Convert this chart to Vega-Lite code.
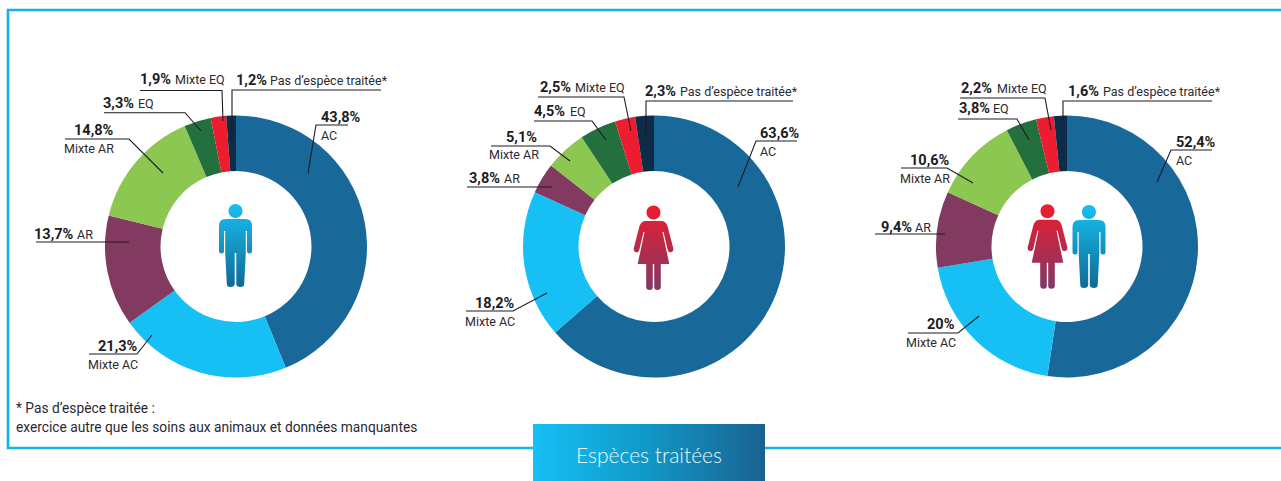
{"$schema":"https://vega.github.io/schema/vega-lite/v6.json","width":1281,"height":481,"autosize":{"type":"none"},"padding":0,"background":"#ffffff","config":{"view":{"stroke":null}},
"datasets":{
"shares":[
{"donut":"H","species":"AC","rank":1,"pct":43.8},{"donut":"H","species":"Mixte AC","rank":2,"pct":21.3},{"donut":"H","species":"AR","rank":3,"pct":13.7},{"donut":"H","species":"Mixte AR","rank":4,"pct":14.8},{"donut":"H","species":"EQ","rank":5,"pct":3.3},{"donut":"H","species":"Mixte EQ","rank":6,"pct":1.9},{"donut":"H","species":"Pas d'espèce traitée","rank":7,"pct":1.2},
{"donut":"F","species":"AC","rank":1,"pct":63.6},{"donut":"F","species":"Mixte AC","rank":2,"pct":18.2},{"donut":"F","species":"AR","rank":3,"pct":3.8},{"donut":"F","species":"Mixte AR","rank":4,"pct":5.1},{"donut":"F","species":"EQ","rank":5,"pct":4.5},{"donut":"F","species":"Mixte EQ","rank":6,"pct":2.5},{"donut":"F","species":"Pas d'espèce traitée","rank":7,"pct":2.3},
{"donut":"T","species":"AC","rank":1,"pct":52.4},{"donut":"T","species":"Mixte AC","rank":2,"pct":20},{"donut":"T","species":"AR","rank":3,"pct":9.4},{"donut":"T","species":"Mixte AR","rank":4,"pct":10.6},{"donut":"T","species":"EQ","rank":5,"pct":3.8},{"donut":"T","species":"Mixte EQ","rank":6,"pct":2.2},{"donut":"T","species":"Pas d'espèce traitée","rank":7,"pct":1.6}],
"leaders":[
{"id":"H1","s":1,"gx":308,"gy":173},{"id":"H1","s":2,"gx":316,"gy":125},{"id":"H1","s":3,"gx":348,"gy":125},
{"id":"H2","s":1,"gx":232,"gy":142},{"id":"H2","s":2,"gx":232,"gy":90},{"id":"H2","s":3,"gx":381,"gy":90},
{"id":"H3","s":1,"gx":140,"gy":90.5},{"id":"H3","s":2,"gx":222,"gy":90.5},{"id":"H3","s":3,"gx":223,"gy":121},
{"id":"H4","s":1,"gx":104,"gy":112.7},{"id":"H4","s":2,"gx":185,"gy":112.7},{"id":"H4","s":3,"gx":201,"gy":131},
{"id":"H5","s":1,"gx":65,"gy":139},{"id":"H5","s":2,"gx":129,"gy":139},{"id":"H5","s":3,"gx":163,"gy":173},
{"id":"H6","s":1,"gx":36,"gy":242},{"id":"H6","s":2,"gx":129,"gy":242},
{"id":"H7","s":1,"gx":89,"gy":354},{"id":"H7","s":2,"gx":137,"gy":354},{"id":"H7","s":3,"gx":152,"gy":335},
{"id":"F1","s":1,"gx":738,"gy":187},{"id":"F1","s":2,"gx":756,"gy":141},{"id":"F1","s":3,"gx":797,"gy":141},
{"id":"F2","s":1,"gx":646,"gy":135},{"id":"F2","s":2,"gx":646,"gy":101},{"id":"F2","s":3,"gx":793,"gy":101},
{"id":"F3","s":1,"gx":538,"gy":97},{"id":"F3","s":2,"gx":624,"gy":97},{"id":"F3","s":3,"gx":631,"gy":131},
{"id":"F4","s":1,"gx":534,"gy":121},{"id":"F4","s":2,"gx":592,"gy":121},{"id":"F4","s":3,"gx":606,"gy":140},
{"id":"F5","s":1,"gx":491,"gy":146},{"id":"F5","s":2,"gx":550,"gy":146},{"id":"F5","s":3,"gx":570,"gy":161},
{"id":"F6","s":1,"gx":467,"gy":187},{"id":"F6","s":2,"gx":552,"gy":187},
{"id":"F7","s":1,"gx":466,"gy":311},{"id":"F7","s":2,"gx":513,"gy":311},{"id":"F7","s":3,"gx":547,"gy":293},
{"id":"T1","s":1,"gx":1157,"gy":182},{"id":"T1","s":2,"gx":1171,"gy":150},{"id":"T1","s":3,"gx":1212,"gy":150},
{"id":"T2","s":1,"gx":1063,"gy":120},{"id":"T2","s":2,"gx":1063,"gy":101},{"id":"T2","s":3,"gx":1212,"gy":101},
{"id":"T3","s":1,"gx":960,"gy":98},{"id":"T3","s":2,"gx":1045,"gy":98},{"id":"T3","s":3,"gx":1051,"gy":130},
{"id":"T4","s":1,"gx":958,"gy":119},{"id":"T4","s":2,"gx":1017,"gy":119},{"id":"T4","s":3,"gx":1029,"gy":140},
{"id":"T5","s":1,"gx":901,"gy":168},{"id":"T5","s":2,"gx":947,"gy":168},{"id":"T5","s":3,"gx":973,"gy":183},
{"id":"T6","s":1,"gx":875,"gy":234},{"id":"T6","s":2,"gx":945,"gy":234},
{"id":"T7","s":1,"gx":908,"gy":333},{"id":"T7","s":2,"gx":958,"gy":333},{"id":"T7","s":3,"gx":979,"gy":316}],
"values":[
{"t":"43,8%","gx":321,"gy":122},{"t":"1,2%","gx":236,"gy":85},{"t":"1,9%","gx":140,"gy":84},{"t":"3,3%","gx":103,"gy":108},{"t":"14,8%","gx":74,"gy":135},{"t":"13,7%","gx":34,"gy":239},{"t":"21,3%","gx":98,"gy":351},
{"t":"63,6%","gx":760,"gy":138},{"t":"2,3%","gx":645,"gy":96},{"t":"2,5%","gx":540,"gy":92},{"t":"4,5%","gx":534,"gy":116},{"t":"5,1%","gx":506,"gy":142},{"t":"3,8%","gx":469,"gy":183},{"t":"18,2%","gx":475,"gy":308},
{"t":"52,4%","gx":1176,"gy":147},{"t":"1,6%","gx":1068,"gy":96},{"t":"2,2%","gx":961,"gy":93},{"t":"3,8%","gx":959,"gy":113},{"t":"10,6%","gx":910,"gy":165},{"t":"9,4%","gx":881,"gy":232},{"t":"20%","gx":927,"gy":329}],
"names":[
{"t":"AC","gx":321,"gy":140},{"t":"Pas d’espèce traitée*","gx":270,"gy":85},{"t":"Mixte EQ","gx":175,"gy":84},{"t":"EQ","gx":138,"gy":108},{"t":"Mixte AR","gx":64,"gy":153},{"t":"AR","gx":77,"gy":239},{"t":"Mixte AC","gx":88,"gy":369},
{"t":"AC","gx":760,"gy":156},{"t":"Pas d’espèce traitée*","gx":680,"gy":96},{"t":"Mixte EQ","gx":575,"gy":92},{"t":"EQ","gx":570,"gy":116},{"t":"Mixte AR","gx":489,"gy":159},{"t":"AR","gx":504,"gy":183},{"t":"Mixte AC","gx":465,"gy":326},
{"t":"AC","gx":1176,"gy":165},{"t":"Pas d’espèce traitée*","gx":1103,"gy":96},{"t":"Mixte EQ","gx":997,"gy":93},{"t":"EQ","gx":993,"gy":113},{"t":"Mixte AR","gx":900,"gy":183},{"t":"AR","gx":915,"gy":232},{"t":"Mixte AC","gx":906,"gy":347},
{"t":"* Pas d’espèce traitée :","gx":16,"gy":413,"big":true},{"t":"exercice autre que les soins aux animaux et données manquantes","gx":16,"gy":432,"big":true}],
"men":[{"gx":235.5,"gy":250},{"gx":1089,"gy":251}],
"women":[{"gx":653.5,"gy":250},{"gx":1047.5,"gy":248.8}],
"frame":[{"p":"a","s":1,"gx":1281,"gy":10},{"p":"a","s":2,"gx":8,"gy":10},{"p":"a","s":3,"gx":8,"gy":448},{"p":"a","s":4,"gx":1281,"gy":448}],
"box":[{"t":"Espèces traitées","a":533,"b":765,"c":424,"d":481}]
},
"layer":[
{"data":{"name":"frame"},"mark":{"type":"line","color":"#0fb3ec","strokeWidth":2.6},"encoding":{"x":{"field":"gx","type":"quantitative","scale":{"domain":[0,1281],"nice":false,"zero":false},"axis":null},"y":{"field":"gy","type":"quantitative","scale":{"domain":[481,0],"nice":false,"zero":false},"axis":null},"order":{"field":"s"},"detail":{"field":"p"}}},
{"data":{"name":"box"},"mark":{"type":"rect","color":{"gradient":"linear","x1":0,"y1":0,"x2":1,"y2":0,"stops":[{"offset":0,"color":"#16c0f6"},{"offset":0.45,"color":"#109ccb"},{"offset":1,"color":"#1a6290"}]}},"encoding":{"x":{"field":"a","type":"quantitative"},"x2":{"field":"b"},"y":{"field":"c","type":"quantitative"},"y2":{"field":"d"}}},
{"data":{"name":"box"},"mark":{"type":"text","font":"Lato","fontSize":21,"color":"#eaf8fd","align":"center","baseline":"alphabetic","fontWeight":300},"encoding":{"x":{"datum":649},"y":{"datum":463},"text":{"field":"t"}}},
{"data":{"name":"shares"},"transform":[{"filter":"datum.donut==='H'"}],"mark":{"type":"arc","outerRadius":131,"innerRadius":75.5},"encoding":{"x":{"datum":236},"y":{"datum":246.5},"theta":{"field":"pct","type":"quantitative","scale":{"domain":[0,100],"range":[0,6.283185]}},"order":{"field":"rank"},"color":{"field":"species","type":"nominal","legend":null,"scale":{"domain":["AC","Mixte AC","AR","Mixte AR","EQ","Mixte EQ","Pas d'espèce traitée"],"range":["#19689a","#16c0f5","#833a61","#8bc751","#23703e","#ed1c2e","#0c2c47"]}}}},
{"data":{"name":"shares"},"transform":[{"filter":"datum.donut==='F'"}],"mark":{"type":"arc","outerRadius":131,"innerRadius":75.5},"encoding":{"x":{"datum":654},"y":{"datum":246.5},"theta":{"field":"pct","type":"quantitative"},"order":{"field":"rank"},"color":{"field":"species","type":"nominal","legend":null}}},
{"data":{"name":"shares"},"transform":[{"filter":"datum.donut==='T'"}],"mark":{"type":"arc","outerRadius":131,"innerRadius":75.5},"encoding":{"x":{"datum":1067},"y":{"datum":246.5},"theta":{"field":"pct","type":"quantitative"},"order":{"field":"rank"},"color":{"field":"species","type":"nominal","legend":null}}},
{"data":{"name":"leaders"},"mark":{"type":"line","color":"#1c1c22","strokeWidth":1.1},"encoding":{"x":{"field":"gx","type":"quantitative"},"y":{"field":"gy","type":"quantitative"},"order":{"field":"s"},"detail":{"field":"id"}}},
{"data":{"name":"values"},"mark":{"type":"text","font":"Roboto","fontWeight":"bold","fontSize":14.5,"align":"left","baseline":"alphabetic","color":"#1c1c22"},"encoding":{"x":{"field":"gx","type":"quantitative"},"y":{"field":"gy","type":"quantitative"},"text":{"field":"t"}}},
{"data":{"name":"names"},"transform":[{"filter":"!datum.big"}],"mark":{"type":"text","font":"Roboto","fontSize":12.5,"align":"left","baseline":"alphabetic","color":"#2a2a30"},"encoding":{"x":{"field":"gx","type":"quantitative"},"y":{"field":"gy","type":"quantitative"},"text":{"field":"t"}}},
{"data":{"name":"names"},"transform":[{"filter":"datum.big"}],"mark":{"type":"text","font":"Roboto","fontSize":13.75,"align":"left","baseline":"alphabetic","color":"#2a2a30"},"encoding":{"x":{"field":"gx","type":"quantitative"},"y":{"field":"gy","type":"quantitative"},"text":{"field":"t"}}},
{"data":{"name":"men"},"mark":{"type":"point","filled":true,"opacity":1,"size":4,"shape":"M-7,-39a7,7 0 1,0 14,0a7,7 0 1,0 -14,0Z M-10,-31H10Q16.5,-31 16.5,-24V1Q16.5,3.5 14,3.5Q11.5,3.5 11.5,1V-19H10.3V3L8.7,34Q8.7,37 5,37Q1,37 0.8,34V3H-0.8V34Q-1,37 -5,37Q-8.7,37 -8.7,34L-10.3,3V-19H-11.5V1Q-11.5,3.5 -14,3.5Q-16.5,3.5 -16.5,1V-24Q-16.5,-31 -10,-31Z","color":{"gradient":"linear","x1":0,"y1":0,"x2":0,"y2":1,"stops":[{"offset":0,"color":"#17c0f2"},{"offset":1,"color":"#106a96"}]}},"encoding":{"x":{"field":"gx","type":"quantitative"},"y":{"field":"gy","type":"quantitative"}}},
{"data":{"name":"women"},"mark":{"type":"point","filled":true,"opacity":1,"size":4,"shape":"M-7,-37.5a7,7 0 1,0 14,0a7,7 0 1,0 -14,0Z M-8,-29H8Q12,-29 14,-24L19.7,-2Q20.5,1.5 17.5,2.3Q15,2.8 14.2,0L10,-18H9L15.8,14H7.3V37Q7.3,40 3.7,40Q0.7,40 0.7,37V14H-0.7V37Q-0.7,40 -3.7,40Q-7.3,40 -7.3,37V14H-15.8L-9,-18H-10L-14.2,0Q-15,2.8 -17.5,2.3Q-20.5,1.5 -19.7,-2L-14,-24Q-12,-29 -8,-29Z","color":{"gradient":"linear","x1":0,"y1":0,"x2":0,"y2":1,"stops":[{"offset":0,"color":"#ed1c2e"},{"offset":1,"color":"#7f3a66"}]}},"encoding":{"x":{"field":"gx","type":"quantitative"},"y":{"field":"gy","type":"quantitative"}}}
]}
